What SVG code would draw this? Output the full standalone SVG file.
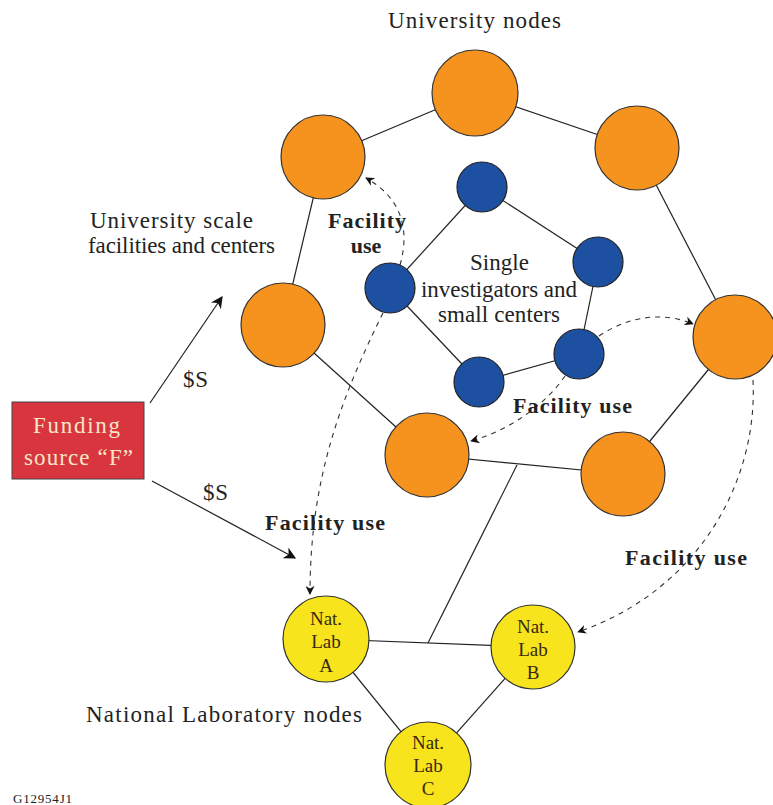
<svg xmlns="http://www.w3.org/2000/svg" width="773" height="805" viewBox="0 0 773 805">
<defs>
<style>
.t{font-family:"Liberation Serif","Times New Roman",serif;fill:#222;font-size:23px}
.b{font-weight:bold;font-size:22px}
.n{font-size:19px;text-anchor:middle;fill:#3a2a10}
.edge{stroke:#222;stroke-width:1.2;fill:none}
.flow{stroke:#333;stroke-width:1.1;fill:none;stroke-dasharray:5 5}
.org{fill:#f6921e;stroke:#333;stroke-width:1.2}
.blu{fill:#1d50a0;stroke:#222;stroke-width:1.2}
.yel{fill:#f7e41c;stroke:#333;stroke-width:1.2}
</style>
<marker id="ah" viewBox="0 0 10 10" refX="9" refY="5" markerWidth="9" markerHeight="9" markerUnits="userSpaceOnUse" orient="auto">
<path d="M0,0 L10,5 L0,10 L3,5 Z" fill="#111"/>
</marker>
<marker id="ah2" viewBox="0 0 10 10" refX="9" refY="5" markerWidth="12" markerHeight="12" markerUnits="userSpaceOnUse" orient="auto">
<path d="M0,0 L10,5 L0,10 L3,5 Z" fill="#111"/>
</marker>
</defs>
<rect width="773" height="805" fill="#fff"/>
<g id="connectors">
<line class="edge" x1="475" y1="93" x2="323" y2="157"/>
<line class="edge" x1="475" y1="93" x2="637" y2="148"/>
<line class="edge" x1="323" y1="157" x2="283" y2="325"/>
<line class="edge" x1="637" y1="148" x2="735" y2="337"/>
<line class="edge" x1="283" y1="325" x2="427" y2="455"/>
<line class="edge" x1="735" y1="337" x2="623" y2="474"/>
<line class="edge" x1="427" y1="455" x2="623" y2="474"/>
<line class="edge" x1="517" y1="465" x2="428" y2="643"/>
<line class="edge" x1="326" y1="639" x2="533" y2="647"/>
<line class="edge" x1="326" y1="639" x2="428" y2="765"/>
<line class="edge" x1="533" y1="647" x2="428" y2="765"/>
<line class="edge" x1="482" y1="187" x2="598" y2="262"/>
<line class="edge" x1="482" y1="187" x2="390" y2="288"/>
<line class="edge" x1="598" y1="262" x2="579" y2="354"/>
<line class="edge" x1="390" y1="288" x2="479" y2="382"/>
<line class="edge" x1="479" y1="382" x2="579" y2="354"/>
<line class="edge" x1="150" y1="403" x2="222" y2="297" marker-end="url(#ah2)"/>
<line class="edge" x1="152" y1="481" x2="295" y2="558" marker-end="url(#ah2)"/>
</g>
<g id="funding">
<rect x="12" y="402" width="132" height="77" fill="#d8353f" stroke="#444" stroke-width="1"/>
<text class="t" x="33" y="433" textLength="87" lengthAdjust="spacing" style="fill:#f6e6c8">Funding</text>
<text class="t" x="24" y="465" textLength="109" lengthAdjust="spacing" style="fill:#f6e6c8">source “F”</text>
</g>
<g id="u-top"><circle class="org" cx="475" cy="93" r="43"/></g>
<g id="u-topleft"><circle class="org" cx="323" cy="157" r="42"/></g>
<g id="u-topright"><circle class="org" cx="637" cy="148" r="42"/></g>
<g id="u-left"><circle class="org" cx="283" cy="325" r="42"/></g>
<g id="u-right"><circle class="org" cx="735" cy="337" r="42"/></g>
<g id="u-bottom"><circle class="org" cx="427" cy="455" r="42"/></g>
<g id="u-bottomright"><circle class="org" cx="623" cy="474" r="42"/></g>
<g id="s-top"><circle class="blu" cx="482" cy="187" r="25"/></g>
<g id="s-right"><circle class="blu" cx="598" cy="262" r="25"/></g>
<g id="s-left"><circle class="blu" cx="390" cy="288" r="25"/></g>
<g id="s-bottomright"><circle class="blu" cx="579" cy="354" r="25"/></g>
<g id="s-bottom"><circle class="blu" cx="479" cy="382" r="25"/></g>
<g id="lab-a"><circle class="yel" cx="326" cy="639" r="43"/>
<text class="t n" x="326" y="625">Nat.</text><text class="t n" x="326" y="648">Lab</text><text class="t n" x="326" y="672">A</text></g>
<g id="lab-b"><circle class="yel" cx="533" cy="647" r="42"/>
<text class="t n" x="533" y="633">Nat.</text><text class="t n" x="533" y="656">Lab</text><text class="t n" x="533" y="679">B</text></g>
<g id="lab-c"><circle class="yel" cx="428" cy="765" r="43"/>
<text class="t n" x="428" y="749">Nat.</text><text class="t n" x="428" y="772">Lab</text><text class="t n" x="428" y="795">C</text></g>
<g id="flows">
<path class="flow" d="M383,313 C340,400 310,480 310,594" marker-end="url(#ah)"/>
<path class="flow" d="M400,265 C410,230 402,198 366,178" marker-end="url(#ah)"/>
<path class="flow" d="M599,336 C630,315 665,312 693,324" marker-end="url(#ah)"/>
<path class="flow" d="M565,376 C545,405 510,430 471,441" marker-end="url(#ah)"/>
<path class="flow" d="M753,380 C758,480 700,590 578,632" marker-end="url(#ah)"/>
</g>
<g id="labels">
<text class="t" x="388" y="28" textLength="173" lengthAdjust="spacing">University nodes</text>
<text class="t" x="90" y="228" textLength="163" lengthAdjust="spacing">University scale</text>
<text class="t" x="88" y="253" textLength="187" lengthAdjust="spacing">facilities and centers</text>
<text class="t b" x="328" y="228" textLength="78" lengthAdjust="spacing">Facility</text>
<text class="t b" x="366" y="253" text-anchor="middle">use</text>
<text class="t" x="470" y="270" textLength="59" lengthAdjust="spacing">Single</text>
<text class="t" x="421" y="297" textLength="156" lengthAdjust="spacing">investigators and</text>
<text class="t" x="438" y="322" textLength="122" lengthAdjust="spacing">small centers</text>
<text class="t b" x="513" y="413" textLength="119" lengthAdjust="spacing">Facility use</text>
<text class="t b" x="265" y="530" textLength="120" lengthAdjust="spacing">Facility use</text>
<text class="t b" x="625" y="565" textLength="122" lengthAdjust="spacing">Facility use</text>
<text class="t" x="183" y="387" textLength="25" lengthAdjust="spacing">$S</text>
<text class="t" x="203" y="500" textLength="25" lengthAdjust="spacing">$S</text>
<text class="t" x="86" y="722" textLength="276" lengthAdjust="spacing">National Laboratory nodes</text>
<text class="t" x="13" y="803" textLength="59" lengthAdjust="spacing" style="font-size:13px">G12954J1</text>
</g>
</svg>
